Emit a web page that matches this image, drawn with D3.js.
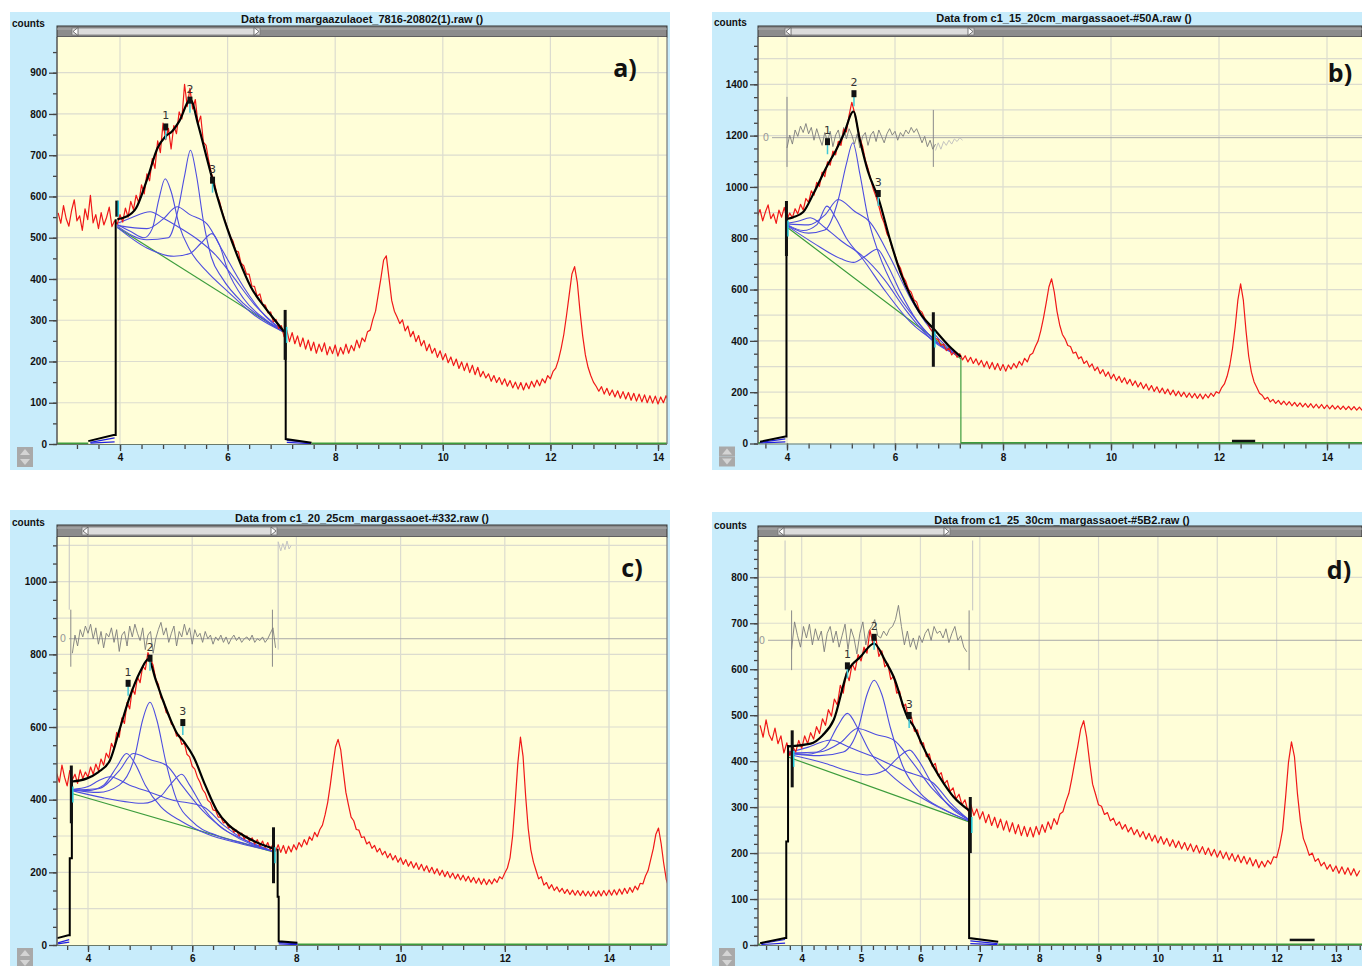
<!DOCTYPE html>
<html>
<head>
<meta charset="utf-8">
<script src="https://cdn.jsdelivr.net/npm/d3@7"></script>
<style>
  body { margin: 0; background: #fff; }
  svg { display: block; }
  .title { font: bold 11px "Liberation Sans", Arial, sans-serif; fill: #111; }
  .counts { font: bold 10px "Liberation Sans", Arial, sans-serif; fill: #111; }
  .tick text { font: bold 10px "Liberation Sans", Arial, sans-serif; fill: #111; }
  .letter { font: bold 25px "Open Sans", sans-serif; fill: #111; }
  .peak { font: 11px "DejaVu Sans", sans-serif; fill: #333; }
</style>
</head>
<body>
<svg id="chart" width="1362" height="966"></svg>
<script>
// ---------- panel a) ----------
const aTitle = 'Data from margaazulaoet_7816-20802(1).raw ()';
const aStart = 2.85, aStep = 0.05;
const aCounts = [
  560,535,578,546,528,566,592,541,553,518,570,544,603,536,556,522,561,531,549,574,
  527,541,533,556,538,572,550,588,568,603,584,628,606,655,638,692,668,735,706,778,
  738,765,715,772,752,805,788,872,818,862,812,835,776,795,732,724,686,655,638,605,
  588,562,542,522,503,492,468,466,438,432,412,412,383,382,358,364,338,337,318,320,
  296,302,280,287,260,276,248,270,243,262,236,257,230,252,226,247,220,242,224,245,
  216,236,219,240,213,234,218,242,220,239,226,252,233,257,248,272,276,302,322,362,
  402,446,456,402,348,322,308,292,301,274,286,260,273,248,263,238,251,226,242,220,
  232,210,226,204,219,197,211,190,206,183,199,178,196,173,191,168,186,163,176,160,
  170,152,166,149,161,144,158,140,154,136,150,133,149,131,148,134,152,138,155,141,
  158,148,166,158,176,184,204,232,266,312,362,412,430,392,322,262,216,186,166,150,
  140,128,139,121,135,118,131,114,129,111,127,109,125,106,123,104,121,102,119,100,
  117,99,116,97,114,100,117,104
];
const aFit = [[3.95,545],[4.1,550],[4.3,572],[4.5,640],[4.7,718],[4.84,745],[4.97,758],[5.1,782],[5.31,835],[5.45,775],[5.6,700],[5.74,631],[6.0,520],[6.2,450],[6.43,381],[6.7,330],[6.88,300],[7.05,272]];
const aBase = [[3.95,525],[7.05,270]];
const aComps = [
  [[3.95,532],[4.2,515],[4.45,500],[4.6,522],[4.72,592],[4.84,643],[4.95,612],[5.1,530],[5.3,470],[5.6,420],[6.0,370],[6.5,312],[7.05,271]],
  [[3.95,528],[4.5,495],[4.9,500],[5.08,568],[5.2,650],[5.31,712],[5.42,652],[5.55,540],[5.7,452],[5.9,402],[6.3,340],[6.7,300],[7.05,272]],
  [[3.95,525],[4.5,475],[5.0,455],[5.3,462],[5.5,486],[5.71,510],[5.85,482],[6.0,422],[6.3,352],[6.7,302],[7.05,272]],
  [[3.95,535],[4.2,548],[4.56,563],[4.8,548],[5.1,525],[5.45,495],[5.8,455],[6.06,413],[6.5,338],[7.05,272]],
  [[3.95,530],[4.5,522],[4.8,545],[5.06,575],[5.3,556],[5.62,533],[5.9,470],[6.3,380],[6.7,310],[7.05,272]]
];
const aPeaks = [{n:'1', x:4.85, c:777}, {n:'2', x:5.30, c:842}, {n:'3', x:5.72, c:648}];
const aEdgeL = [[3.41,7],[3.88,22],[3.92,22],[3.92,545]];
const aEdgeR = [[7.08,275],[7.08,12],[7.56,3]];
const aLows = [[[3.45,2],[3.9,5]], [[3.45,4],[3.9,15]], [[7.1,4],[7.55,1]], [[7.1,9],[7.55,3]]];
const aFitMarks = [[3.94,551,590],[7.07,204,325]];

// ---------- panel b) ----------
const bTitle = 'Data from c1_15_20cm_margassaoet-#50A.raw ()';
const bStart = 3.45, bStep = 0.05;
const bCounts = [
  885,912,868,902,930,876,895,858,910,882,920,872,898,880,915,895,932,910,955,940,
  985,968,1018,1002,1058,1040,1098,1085,1140,1125,1178,1162,1225,1215,1280,1330,1290,1238,1190,1158,
  1105,1072,1030,990,962,925,885,858,818,798,760,735,702,684,650,632,600,590,560,552,
  520,512,488,472,448,435,410,405,382,388,362,372,345,358,336,350,326,342,318,336,
  312,330,306,324,298,320,292,316,288,312,285,308,282,306,290,312,295,320,305,332,
  318,345,352,378,400,440,490,548,610,642,590,515,462,425,408,382,378,352,356,330,
  338,312,322,298,310,284,298,272,288,262,279,252,270,245,262,238,256,232,250,226,
  244,220,238,214,232,208,226,203,221,198,216,194,212,190,208,186,204,183,200,180,
  197,178,195,176,193,174,192,178,196,184,202,196,218,232,262,305,370,455,560,622,
  560,440,340,278,240,218,196,188,172,180,162,172,156,168,152,165,150,163,147,160,
  145,158,143,156,141,155,139,153,138,152,136,150,135,149,134,147,133,146,132,145,
  131,144,130,142,129
];
const bFit = [[3.99,875],[4.12,882],[4.3,902],[4.5,978],[4.74,1081],[4.9,1140],[5.05,1205],[5.23,1294],[5.35,1182],[5.5,1060],[5.7,951],[5.9,800],[6.1,667],[6.3,570],[6.5,497],[6.72,446],[7.0,380],[7.22,338]];
const bBase = [[3.99,845],[7.22,330],[7.22,0]];
const bComps = [
  [[3.99,855],[4.3,830],[4.55,852],[4.74,925],[4.9,880],[5.1,800],[5.4,720],[5.8,600],[6.3,470],[6.8,390],[7.22,338]],
  [[3.99,852],[4.4,820],[4.7,832],[4.95,951],[5.1,1090],[5.22,1172],[5.35,1050],[5.5,880],[5.7,740],[6.0,600],[6.4,480],[6.8,390],[7.22,338]],
  [[3.99,850],[4.5,780],[5.0,720],[5.23,706],[5.45,730],[5.67,757],[5.85,700],[6.1,590],[6.4,480],[6.8,390],[7.22,338]],
  [[3.99,858],[4.2,866],[4.43,880],[4.7,842],[5.0,790],[5.4,730],[5.8,640],[6.2,520],[6.7,400],[7.22,338]],
  [[3.99,856],[4.4,852],[4.7,890],[4.95,951],[5.25,905],[5.54,862],[5.9,730],[6.3,560],[6.8,410],[7.22,338]]
];
const bPeaks = [{n:'1', x:4.75, c:1190}, {n:'2', x:5.24, c:1377}, {n:'3', x:5.69, c:988}];
const bEdgeL = [[3.5,7],[3.97,27],[3.99,27],[3.99,875]];
const bEdgeR = null;
const bLows = [[[3.5,2],[3.97,6]], [[3.5,4],[3.97,18]]];
const bFitMarks = [[3.99,731,945],[6.71,299,512]];
const bResidStart = 4.0, bResidZero = 1192;
const bResid = [-40,10,-25,30,5,45,20,55,15,40,-10,35,0,-30,20,-15,25,-35,10,30,-20,40,-5,35,10,-25,15,-40,5,20,-30,10,25,-15,30,5,-20,15,35,10,25,-10,20,5,30,15,40,20,35,10,-20,5,-35,-10,-45,-25];
const bResidTail = [-50,-20,-45,-15,-30,-10,-25,-5,-15,0,-10];
const bResidBars = [[4.0,1078,1351],[6.71,1078,1300]];
const bResidFaint = [];
const bFlat = [[12.24,10],[12.67,10]];

// ---------- panel c) ----------
const cTitle = 'Data from c1_20_25cm_margassaoet-#332.raw ()';
const cStart = 3.40, cStep = 0.05;
const cCounts = [
  472,448,495,462,438,480,455,470,445,482,458,476,462,490,470,498,480,512,495,528,
  515,555,540,585,572,625,610,668,650,705,690,738,722,768,758,805,788,770,732,718,
  680,672,640,635,608,602,575,578,552,556,525,518,492,484,462,448,428,418,398,392,
  372,370,352,352,336,338,322,326,310,316,300,308,292,300,285,295,278,290,272,286,
  268,282,262,278,258,276,255,274,252,272,256,276,262,282,270,290,276,298,288,310,
  298,318,330,358,392,440,495,545,566,538,478,420,385,352,342,318,316,296,298,278,
  284,266,274,256,266,248,258,240,252,234,246,228,240,222,235,217,230,212,226,208,
  222,204,218,200,214,196,210,192,206,188,202,185,198,182,195,179,192,176,189,173,
  186,170,184,167,182,166,180,168,182,172,188,182,198,212,240,300,395,500,572,520,
  410,320,262,228,205,182,188,165,172,155,166,150,160,146,156,142,153,139,151,137,
  150,136,149,135,148,134,148,134,149,135,150,136,151,137,152,138,154,140,156,142,
  158,145,162,152,170,168,190,205,235,265,305,322,280,225,180,158
];
const cFit = [[3.69,450],[3.97,458],[4.2,476],[4.42,508],[4.62,600],[4.8,682],[5.0,752],[5.16,787],[5.3,730],[5.44,673],[5.6,615],[5.71,582],[5.85,558],[6.03,517],[6.25,440],[6.47,371],[6.7,330],[6.92,307],[7.2,285],[7.55,266]];
const cBase = [[3.69,417],[7.55,256]];
const cComps = [
  [[3.69,428],[4.0,425],[4.3,440],[4.55,490],[4.74,527],[4.9,500],[5.1,440],[5.4,380],[5.8,340],[6.3,305],[6.9,280],[7.55,258]],
  [[3.69,427],[4.2,420],[4.6,440],[4.9,520],[5.05,620],[5.19,668],[5.32,620],[5.5,500],[5.7,400],[6.0,340],[6.5,300],[7.0,280],[7.55,258]],
  [[3.69,425],[4.3,405],[4.8,393],[5.06,390],[5.4,410],[5.6,445],[5.8,470],[5.95,440],[6.2,380],[6.5,330],[7.0,290],[7.55,258]],
  [[3.69,428],[4.0,436],[4.2,452],[4.42,463],[4.8,440],[5.2,420],[5.6,400],[6.22,380],[6.6,330],[7.0,290],[7.55,258]],
  [[3.69,427],[4.2,430],[4.6,480],[4.87,527],[5.2,510],[5.51,494],[5.8,440],[6.2,370],[6.7,310],[7.55,258]]
];
const cPeaks = [{n:'1', x:4.77, c:730}, {n:'2', x:5.19, c:799}, {n:'3', x:5.82, c:622}];
const cEdgeL = [[3.41,19],[3.62,27],[3.65,27],[3.65,239],[3.69,239],[3.69,455]];
const cEdgeR = [[7.64,265],[7.64,133],[7.66,133],[7.66,10],[8.02,6]];
const cLows = [[[3.42,3],[3.64,8]], [[3.42,6],[3.64,15]], [[7.66,3],[8.02,1]], [[7.66,7],[8.02,3]]];
const cFitMarks = [[3.68,335,494],[7.56,170,324]];
const cResidStart = 3.70, cResidZero = 843;
const cResid = [-40,10,-20,25,5,35,15,40,0,30,-15,20,-25,15,5,30,-10,25,-35,10,20,-20,35,5,40,15,-5,30,-30,10,20,-40,0,25,45,10,30,-10,15,35,-20,20,5,40,10,30,-15,25,5,15,-10,20,0,10,-15,5,-5,10,-10,5,-15,0,10,-5,5,-10,0,5,-5,10,-10,0,-5,5,-10,0,15,30,-25];
const cResidTail = [];
const cResidBars = [[3.67,766,923],[7.54,766,923]];
const cResidFaint = [[[3.64,923],[3.64,1124]], [[7.65,813],[7.65,1110],[7.7,1085],[7.74,1105],[7.78,1088],[7.82,1112],[7.86,1090],[7.9,1100]]];
const cFlat = null;

// ---------- panel d) ----------
const dTitle = 'Data from c1_25_30cm_margassaoet-#5B2.raw ()';
const dStart = 3.30, dStep = 0.05;
const dCounts = [
  478,452,490,458,445,472,438,455,418,440,412,432,420,445,428,455,438,462,448,475,
  460,492,478,512,498,535,522,565,548,592,575,612,598,632,618,648,635,685,655,668,
  628,640,605,612,578,585,548,552,518,524,490,496,465,468,438,440,410,416,388,395,
  368,375,350,358,334,342,318,328,305,316,292,305,282,296,274,290,266,284,260,278,
  255,274,250,270,246,266,242,262,238,258,236,256,235,258,240,262,245,268,252,275,
  262,285,290,312,330,362,398,432,470,488,452,398,350,328,305,302,284,288,270,276,
  260,268,252,262,246,256,240,251,235,247,230,243,226,239,222,236,219,232,215,229,
  212,226,209,223,206,220,203,217,200,214,197,211,194,208,191,205,188,202,185,199,
  182,196,179,193,176,190,172,186,168,182,170,184,176,192,190,215,250,320,398,442,
  410,330,270,232,215,195,200,182,188,172,180,165,175,160,172,156,170,154,168,152,
  166,150,162
];
const dFit = [[3.77,432],[4.15,438],[4.35,456],[4.54,490],[4.77,594],[4.99,627],[5.22,656],[5.4,620],[5.55,583],[5.78,496],[5.89,475],[6.05,430],[6.22,388],[6.4,350],[6.56,322],[6.82,293]];
const dBase = [[3.77,409],[6.82,268]];
const dComps = [
  [[3.77,418],[4.1,415],[4.4,430],[4.6,475],[4.77,504],[4.95,470],[5.15,420],[5.5,370],[5.9,330],[6.3,300],[6.82,270]],
  [[3.77,417],[4.3,412],[4.7,420],[4.95,470],[5.1,545],[5.22,576],[5.35,545],[5.5,470],[5.7,390],[6.0,330],[6.4,295],[6.82,270]],
  [[3.77,415],[4.4,395],[4.8,378],[5.1,370],[5.4,380],[5.6,405],[5.82,424],[5.95,405],[6.2,350],[6.5,300],[6.82,272]],
  [[3.77,420],[4.1,430],[4.3,440],[4.49,446],[4.8,430],[5.2,410],[5.7,380],[6.22,352],[6.5,310],[6.82,272]],
  [[3.77,418],[4.3,420],[4.65,440],[4.94,471],[5.25,458],[5.55,446],[5.85,400],[6.2,340],[6.82,272]]
];
const dPeaks = [{n:'1', x:4.77, c:615}, {n:'2', x:5.22, c:677}, {n:'3', x:5.81, c:507}];
const dEdgeL = [[3.30,4],[3.72,15],[3.74,15],[3.74,225],[3.77,225],[3.77,435]];
const dEdgeR = [[6.82,293],[6.82,15],[7.31,7]];
const dLows = [[[3.32,1],[3.72,4]], [[3.32,3],[3.72,12]], [[6.84,3],[7.3,1]], [[6.84,9],[7.3,3]]];
const dFitMarks = [[3.84,343,467],[6.84,200,322]];
const dResidStart = 3.83, dResidZero = 663;
const dResid = [-20,40,10,-15,30,5,35,-10,25,0,20,-25,15,30,-5,20,-15,10,35,-20,25,5,-30,15,40,-10,20,30,45,10,5,20,10,25,30,45,76,30,-10,20,-15,5,-20,10,-5,15,25,0,30,15,20,5,25,-5,15,30,0,10,-15,-25];
const dResidTail = [];
const dResidBars = [[3.83,598,728],[6.82,598,728]];
const dResidFaint = [[[3.72,728],[3.72,880]], [[6.88,728],[6.88,880]]];
const dFlat = [[12.22,11],[12.64,11]];

const FRAME = '#c8ecfb', PLOT = '#fffed8', GRID = '#dcdccf';
const RED = '#f01818', BLUE = '#4d4de0', GREEN = '#3c9c3c';

const panels = [
  { key:'a', frame:[10,12,670,470], plot:[57,37,667,444], xRef:[4,14], xPx:[120,658], yRef:[0,900], yPx:[444,72.7],
    xMinor:0.4, xMajor:2, yMinor:50, yLabel:100, title:aTitle, titleX:362, titleY:23, scroll:[26,37], thumb:[72,260],
    countsY:27, letter:'a)', letterX:625, letterY:77,
    start:aStart, step:aStep, counts:aCounts, fit:aFit, base:aBase, comps:aComps, peaks:aPeaks,
    edgeL:aEdgeL, edgeR:aEdgeR, lows:aLows, marks:aFitMarks, resid:null, flat:null },
  { key:'b', frame:[712,12,1362,470], plot:[758,37,1362,443.5], xRef:[4,14], xPx:[787,1327], yRef:[0,1400], yPx:[443.5,84.3],
    xMinor:0.4, xMajor:2, yMinor:50, yLabel:200, title:bTitle, titleX:1064, titleY:22, scroll:[26,37], thumb:[785,974],
    countsY:26, letter:'b)', letterX:1340, letterY:82,
    start:bStart, step:bStep, counts:bCounts, fit:bFit, base:bBase, comps:bComps, peaks:bPeaks,
    edgeL:bEdgeL, edgeR:bEdgeR, lows:bLows, marks:bFitMarks,
    resid:{start:bResidStart, zero:bResidZero, vals:bResid, tail:bResidTail, bars:bResidBars, faint:bResidFaint, labelX:766}, flat:bFlat },
  { key:'c', frame:[10,510,670,966], plot:[57,537,667,945], xRef:[4,14], xPx:[88,609], yRef:[0,1000], yPx:[945,581.7],
    xMinor:0.4, xMajor:2, yMinor:50, yLabel:200, title:cTitle, titleX:362, titleY:522, scroll:[525,537], thumb:[82,277],
    countsY:526, letter:'c)', letterX:632, letterY:577,
    start:cStart, step:cStep, counts:cCounts, fit:cFit, base:cBase, comps:cComps, peaks:cPeaks,
    edgeL:cEdgeL, edgeR:cEdgeR, lows:cLows, marks:cFitMarks,
    resid:{start:cResidStart, zero:cResidZero, vals:cResid, tail:cResidTail, bars:cResidBars, faint:cResidFaint, labelX:63}, flat:cFlat },
  { key:'d', frame:[712,512,1362,966], plot:[758,537,1362,945], xRef:[4,13], xPx:[801.7,1336], yRef:[0,800], yPx:[945,577.3],
    xMinor:0.2, xMajor:1, yMinor:20, yLabel:100, title:dTitle, titleX:1062, titleY:524, scroll:[526,537], thumb:[778,950],
    countsY:529, letter:'d)', letterX:1339, letterY:579,
    start:dStart, step:dStep, counts:dCounts, fit:dFit, base:dBase, comps:dComps, peaks:dPeaks,
    edgeL:dEdgeL, edgeR:dEdgeR, lows:dLows, marks:dFitMarks,
    resid:{start:dResidStart, zero:dResidZero, vals:dResid, tail:dResidTail, bars:dResidBars, faint:dResidFaint, labelX:762}, flat:dFlat }
];

const svg = d3.select('#chart');

// multiples of a step that fall inside [lo, hi]
function stepsIn(lo, hi, step) {
  return d3.range(Math.ceil(lo / step - 1e-6), Math.floor(hi / step + 1e-6) + 1).map(k => +(k * step).toFixed(4));
}

function drawPanel(p) {
  const g = svg.append('g');
  const [fx0, fy0, fx1, fy1] = p.frame;
  const [L, T, R, B] = p.plot;

  g.append('rect').attr('x', fx0).attr('y', fy0).attr('width', fx1 - fx0).attr('height', fy1 - fy0).attr('fill', FRAME);

  const x = d3.scaleLinear().domain(p.xRef).range(p.xPx);
  const y = d3.scaleLinear().domain(p.yRef).range(p.yPx);
  const xMin = x.invert(L), xMax = x.invert(R), yMax = y.invert(T);

  // title bar text + counts label
  g.append('text').attr('class', 'title').attr('x', p.titleX).attr('y', p.titleY).attr('text-anchor', 'middle').text(p.title);
  g.append('text').attr('class', 'counts').attr('x', fx0 + 2).attr('y', p.countsY).text('counts');

  // scrollbar
  const [s0, s1] = p.scroll;
  g.append('rect').attr('x', L).attr('y', s0).attr('width', R - L).attr('height', s1 - s0)
    .attr('fill', '#8c8c8c').attr('stroke', '#333').attr('stroke-width', 1);
  g.append('line').attr('x1', L).attr('x2', R).attr('y1', s0 + 3).attr('y2', s0 + 3).attr('stroke', '#b0b0b0');
  const [t0, t1] = p.thumb;
  g.append('rect').attr('x', t0).attr('y', s0 + 2).attr('width', t1 - t0).attr('height', s1 - s0 - 4)
    .attr('fill', '#dcdcdc').attr('stroke', '#777').attr('stroke-width', 0.8);
  const my = (s0 + s1) / 2;
  g.append('path').attr('d', `M${t0 + 6},${my - 4}L${t0 + 1},${my}L${t0 + 6},${my + 4}Z`).attr('fill', '#fff').attr('stroke', '#555').attr('stroke-width', 0.8);
  g.append('path').attr('d', `M${t1 - 6},${my - 4}L${t1 - 1},${my}L${t1 - 6},${my + 4}Z`).attr('fill', '#fff').attr('stroke', '#555').attr('stroke-width', 0.8);

  // plot background
  g.append('rect').attr('x', L).attr('y', T).attr('width', R - L).attr('height', B - T).attr('fill', PLOT);

  const clipId = 'clip-' + p.key;
  g.append('clipPath').attr('id', clipId).append('rect').attr('x', L).attr('y', T).attr('width', R - L).attr('height', B - T + 1);
  const pg = g.append('g').attr('clip-path', `url(#${clipId})`);

  // grid
  pg.selectAll('line.gy').data(stepsIn(100, yMax, 100)).join('line').attr('class', 'gy')
    .attr('x1', L).attr('x2', R).attr('y1', d => y(d)).attr('y2', d => y(d)).attr('stroke', GRID).attr('stroke-width', 1.2);
  pg.selectAll('line.gx').data(stepsIn(xMin, xMax, p.xMajor)).join('line').attr('class', 'gx')
    .attr('y1', T).attr('y2', B).attr('x1', d => x(d)).attr('x2', d => x(d)).attr('stroke', GRID).attr('stroke-width', 1.2);

  const lineXY = d3.line().x(d => x(d[0])).y(d => y(d[1]));
  const smooth = d3.line().x(d => x(d[0])).y(d => y(d[1])).curve(d3.curveMonotoneX);

  // residual trace
  if (p.resid) {
    const r = p.resid;
    pg.append('line').attr('x1', r.labelX + 6).attr('x2', R).attr('y1', y(r.zero)).attr('y2', y(r.zero)).attr('stroke', '#a8a8a8').attr('stroke-width', 1);
    g.append('text').attr('x', r.labelX).attr('y', y(r.zero) + 3.5).attr('text-anchor', 'middle')
      .attr('font-family', 'DejaVu Sans').attr('font-size', 10).attr('fill', '#9a9a9a').text('0');
    r.faint.forEach(seg => pg.append('path').attr('d', lineXY(seg)).attr('fill', 'none').attr('stroke', '#c4c4c4').attr('stroke-width', 1));
    r.bars.forEach(b => pg.append('line').attr('x1', x(b[0])).attr('x2', x(b[0])).attr('y1', y(b[1])).attr('y2', y(b[2])).attr('stroke', '#8a8a8a').attr('stroke-width', 1));
    const pts = r.vals.map((v, i) => [r.start + i * 0.05, r.zero + v]);
    pg.append('path').attr('d', lineXY(pts)).attr('fill', 'none').attr('stroke', '#7c7c7c').attr('stroke-width', 0.9);
    if (r.tail.length) {
      const x0 = r.start + (r.vals.length - 1) * 0.05;
      const tpts = r.tail.map((v, i) => [x0 + i * 0.05, r.zero + v]);
      pg.append('path').attr('d', lineXY(tpts)).attr('fill', 'none').attr('stroke', '#bdbdbd').attr('stroke-width', 0.9);
    }
  }

  // zero-level green segments and baseline
  const leftEnd = p.edgeL[0][0];
  const rightEnd = p.edgeR ? p.edgeR[p.edgeR.length - 1][0] : p.base[p.base.length - 1][0];
  [[xMin, leftEnd], [rightEnd, xMax]].forEach(s =>
    pg.append('line').attr('x1', x(s[0])).attr('x2', x(s[1])).attr('y1', y(0) - 0.5).attr('y2', y(0) - 0.5).attr('stroke', GREEN).attr('stroke-width', 2));
  pg.append('path').attr('d', lineXY(p.base)).attr('fill', 'none').attr('stroke', GREEN).attr('stroke-width', 1.2);

  // fitted components
  pg.selectAll('path.comp').data(p.comps).join('path').attr('class', 'comp')
    .attr('d', smooth).attr('fill', 'none').attr('stroke', BLUE).attr('stroke-width', 1.1);
  p.lows.forEach(seg => pg.append('path').attr('d', lineXY(seg)).attr('fill', 'none').attr('stroke', '#2020e0').attr('stroke-width', 1.2));

  // measured counts
  const redPts = p.counts.map((c, i) => [p.start + i * p.step, c]);
  pg.append('path').attr('d', lineXY(redPts)).attr('fill', 'none').attr('stroke', RED).attr('stroke-width', 1.2).attr('stroke-linejoin', 'round');

  // fit envelope and range edges
  pg.append('path').attr('d', smooth(p.fit)).attr('fill', 'none').attr('stroke', '#000').attr('stroke-width', 2.2);
  [p.edgeL, p.edgeR].filter(Boolean).forEach(e =>
    pg.append('path').attr('d', lineXY(e)).attr('fill', 'none').attr('stroke', '#000').attr('stroke-width', 2));
  p.marks.forEach(m => pg.append('line').attr('x1', x(m[0])).attr('x2', x(m[0])).attr('y1', y(m[1])).attr('y2', y(m[2])).attr('stroke', '#111').attr('stroke-width', 3));
  p.marks.forEach(m => pg.append('line').attr('x1', x(m[0]) + 1.5).attr('x2', x(m[0]) + 1.5).attr('y1', y((m[1] + m[2]) / 2) - 8).attr('y2', y((m[1] + m[2]) / 2) + 8).attr('stroke', '#20c8d8').attr('stroke-width', 1.5));
  if (p.flat) pg.append('path').attr('d', lineXY(p.flat)).attr('stroke', '#111').attr('stroke-width', 2.5);

  // peak markers
  p.peaks.forEach(pk => {
    const px = x(pk.x), py = y(pk.c);
    pg.append('line').attr('x1', px).attr('x2', px).attr('y1', py + 6).attr('y2', py + 16).attr('stroke', '#40c8d8').attr('stroke-width', 1.5);
    pg.append('rect').attr('x', px - 2.5).attr('y', py).attr('width', 5).attr('height', 7).attr('fill', '#111');
    g.append('text').attr('class', 'peak').attr('x', px).attr('y', py - 4).attr('text-anchor', 'middle').text(pk.n);
  });

  // axes
  const yMinorAxis = d3.axisLeft(y).tickValues(stepsIn(0, yMax, p.yMinor)).tickSize(4).tickFormat('');
  const yMajorAxis = d3.axisLeft(y).tickValues(stepsIn(0, yMax, p.yLabel)).tickSize(8).tickPadding(2).tickFormat(d3.format('d'));
  [yMinorAxis, yMajorAxis].forEach(ax => {
    const a = g.append('g').attr('transform', `translate(${L},0)`).call(ax);
    a.select('.domain').remove();
    a.selectAll('.tick line').attr('stroke', '#444').attr('stroke-width', 1.3);
  });
  const xMinorAxis = d3.axisBottom(x).tickValues(stepsIn(xMin, xMax, p.xMinor)).tickSize(5).tickFormat('');
  const xMajorAxis = d3.axisBottom(x).tickValues(stepsIn(xMin, xMax, p.xMajor)).tickSize(7).tickPadding(3).tickFormat(d3.format('d'));
  [xMinorAxis, xMajorAxis].forEach(ax => {
    const a = g.append('g').attr('transform', `translate(0,${B})`).call(ax);
    a.select('.domain').remove();
    a.selectAll('.tick line').attr('stroke', '#444').attr('stroke-width', 1.3);
  });
  g.append('line').attr('x1', L).attr('x2', L).attr('y1', T).attr('y2', B).attr('stroke', '#555').attr('stroke-width', 1.5);
  g.append('line').attr('x1', L).attr('x2', R).attr('y1', B + 0.5).attr('y2', B + 0.5).attr('stroke', '#6a7a6a').attr('stroke-width', 1);
  if (R < fx1) g.append('line').attr('x1', R).attr('x2', R).attr('y1', T).attr('y2', B).attr('stroke', '#777').attr('stroke-width', 1.2);

  // scroll arrows at bottom-left
  const ax0 = fx0 + 7, ay0 = B + 3;
  [0, 1].forEach(k => {
    g.append('rect').attr('x', ax0).attr('y', ay0 + k * 10).attr('width', 16).attr('height', 10).attr('fill', '#a9a9a9');
    const cx = ax0 + 8, cy = ay0 + k * 10 + 5;
    const d = k === 0 ? `M${cx - 5},${cy + 3}L${cx},${cy - 3}L${cx + 5},${cy + 3}Z` : `M${cx - 5},${cy - 3}L${cx},${cy + 3}L${cx + 5},${cy - 3}Z`;
    g.append('path').attr('d', d).attr('fill', '#d4d4d4');
  });

  // panel letter
  g.append('text').attr('class', 'letter').attr('x', p.letterX).attr('y', p.letterY).attr('text-anchor', 'middle').text(p.letter);
}

panels.forEach(drawPanel);
</script>
</body>
</html>
